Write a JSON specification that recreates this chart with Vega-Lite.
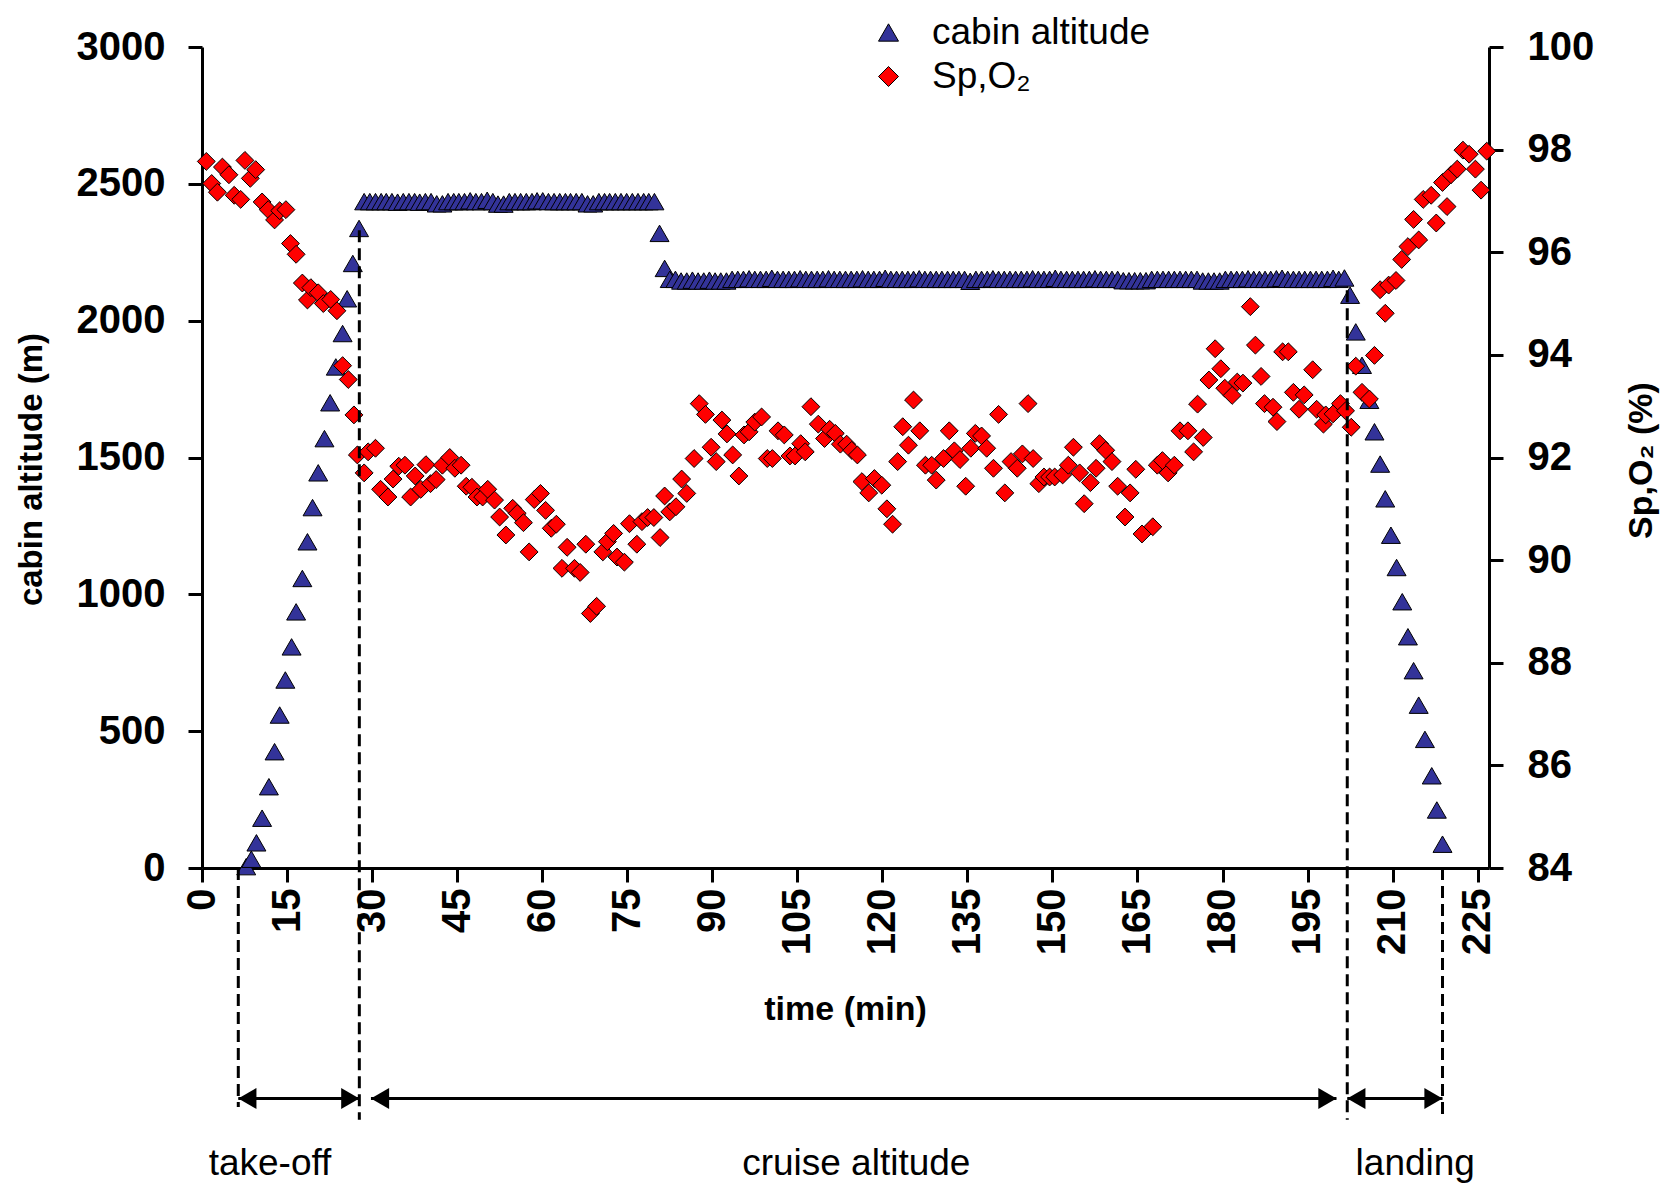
{
  "$schema": "https://vega.github.io/schema/vega-lite/v6.json",
  "width": 1287,
  "height": 821,
  "autosize": {"type": "none"},
  "padding": {"left": 202, "top": 47, "right": 176, "bottom": 324},
  "background": "white",
  "config": {
    "view": {"stroke": null},
    "font": "Liberation Sans",
    "axis": {
      "grid": false,
      "domainColor": "black",
      "domainWidth": 3,
      "tickColor": "black",
      "tickWidth": 3,
      "tickSize": 14,
      "labelFont": "Liberation Sans",
      "labelFontSize": 40,
      "labelFontWeight": "bold",
      "labelColor": "black",
      "titleFont": "Liberation Sans",
      "titleFontWeight": "bold",
      "titleColor": "black",
      "labelFlush": false,
      "labelOverlap": false
    }
  },
  "datasets": {
    "alt": [
      {"t": 7.8, "alt": 5}, {"t": 8.7, "alt": 32}, {"t": 9.6, "alt": 92}, {"t": 10.6, "alt": 182},
      {"t": 11.8, "alt": 297}, {"t": 12.8, "alt": 425}, {"t": 13.7, "alt": 559}, {"t": 14.7, "alt": 687},
      {"t": 15.8, "alt": 808}, {"t": 16.6, "alt": 936}, {"t": 17.7, "alt": 1058}, {"t": 18.6, "alt": 1192},
      {"t": 19.5, "alt": 1317}, {"t": 20.5, "alt": 1444}, {"t": 21.6, "alt": 1569}, {"t": 22.6, "alt": 1700},
      {"t": 23.6, "alt": 1831}, {"t": 24.8, "alt": 1953}, {"t": 25.6, "alt": 2080}, {"t": 26.6, "alt": 2209},
      {"t": 27.7, "alt": 2337},
      {"t": 28.6, "alt": 2435}, {"t": 29.6, "alt": 2435}, {"t": 30.6, "alt": 2435}, {"t": 31.6, "alt": 2435},
      {"t": 32.5, "alt": 2435}, {"t": 33.5, "alt": 2435}, {"t": 34.5, "alt": 2433}, {"t": 35.5, "alt": 2435},
      {"t": 36.5, "alt": 2435}, {"t": 37.5, "alt": 2435}, {"t": 38.4, "alt": 2433}, {"t": 39.4, "alt": 2435},
      {"t": 40.4, "alt": 2435}, {"t": 41.4, "alt": 2427}, {"t": 42.4, "alt": 2427}, {"t": 43.4, "alt": 2435},
      {"t": 44.4, "alt": 2435}, {"t": 45.3, "alt": 2435}, {"t": 46.3, "alt": 2435}, {"t": 47.3, "alt": 2438},
      {"t": 48.3, "alt": 2435}, {"t": 49.3, "alt": 2435}, {"t": 50.3, "alt": 2440}, {"t": 51.3, "alt": 2435},
      {"t": 52.2, "alt": 2426}, {"t": 53.2, "alt": 2426}, {"t": 54.2, "alt": 2435}, {"t": 55.2, "alt": 2435},
      {"t": 56.2, "alt": 2435}, {"t": 57.2, "alt": 2435}, {"t": 58.2, "alt": 2435}, {"t": 59.1, "alt": 2438},
      {"t": 60.1, "alt": 2438}, {"t": 61.1, "alt": 2435}, {"t": 62.1, "alt": 2435}, {"t": 63.1, "alt": 2435},
      {"t": 64.1, "alt": 2435}, {"t": 65.0, "alt": 2435}, {"t": 66.0, "alt": 2435}, {"t": 67.0, "alt": 2435},
      {"t": 68.0, "alt": 2427}, {"t": 69.0, "alt": 2427}, {"t": 70.0, "alt": 2435}, {"t": 71.0, "alt": 2435},
      {"t": 71.9, "alt": 2435}, {"t": 72.9, "alt": 2435}, {"t": 73.9, "alt": 2435}, {"t": 74.9, "alt": 2435},
      {"t": 75.9, "alt": 2435}, {"t": 76.9, "alt": 2435}, {"t": 77.9, "alt": 2435}, {"t": 78.8, "alt": 2435},
      {"t": 79.8, "alt": 2435},
      {"t": 80.7, "alt": 2319}, {"t": 81.6, "alt": 2191},
      {"t": 82.5, "alt": 2151}, {"t": 83.5, "alt": 2151}, {"t": 84.5, "alt": 2145}, {"t": 85.5, "alt": 2145},
      {"t": 86.5, "alt": 2148}, {"t": 87.5, "alt": 2145}, {"t": 88.5, "alt": 2145}, {"t": 89.5, "alt": 2148},
      {"t": 90.5, "alt": 2145}, {"t": 91.5, "alt": 2145}, {"t": 92.5, "alt": 2145}, {"t": 93.5, "alt": 2151},
      {"t": 94.5, "alt": 2151}, {"t": 95.5, "alt": 2151}, {"t": 96.5, "alt": 2153}, {"t": 97.5, "alt": 2151},
      {"t": 98.5, "alt": 2151}, {"t": 99.5, "alt": 2151}, {"t": 100.5, "alt": 2155}, {"t": 101.5, "alt": 2151},
      {"t": 102.5, "alt": 2151}, {"t": 103.5, "alt": 2151}, {"t": 104.5, "alt": 2151}, {"t": 105.5, "alt": 2153},
      {"t": 106.5, "alt": 2151}, {"t": 107.5, "alt": 2151}, {"t": 108.5, "alt": 2151}, {"t": 109.5, "alt": 2151},
      {"t": 110.5, "alt": 2153}, {"t": 111.5, "alt": 2151}, {"t": 112.5, "alt": 2151}, {"t": 113.5, "alt": 2151},
      {"t": 114.5, "alt": 2151}, {"t": 115.5, "alt": 2151}, {"t": 116.5, "alt": 2153}, {"t": 117.5, "alt": 2151},
      {"t": 118.5, "alt": 2151}, {"t": 119.5, "alt": 2151}, {"t": 120.5, "alt": 2155}, {"t": 121.5, "alt": 2151},
      {"t": 122.5, "alt": 2151}, {"t": 123.5, "alt": 2151}, {"t": 124.5, "alt": 2151}, {"t": 125.5, "alt": 2151},
      {"t": 126.5, "alt": 2153}, {"t": 127.5, "alt": 2151}, {"t": 128.5, "alt": 2151}, {"t": 129.5, "alt": 2151},
      {"t": 130.5, "alt": 2151}, {"t": 131.5, "alt": 2151}, {"t": 132.5, "alt": 2151}, {"t": 133.5, "alt": 2151},
      {"t": 134.5, "alt": 2151}, {"t": 135.5, "alt": 2144}, {"t": 136.5, "alt": 2151}, {"t": 137.5, "alt": 2151},
      {"t": 138.5, "alt": 2151}, {"t": 139.5, "alt": 2153}, {"t": 140.5, "alt": 2151}, {"t": 141.5, "alt": 2151},
      {"t": 142.5, "alt": 2151}, {"t": 143.5, "alt": 2151}, {"t": 144.5, "alt": 2151}, {"t": 145.5, "alt": 2151},
      {"t": 146.5, "alt": 2153}, {"t": 147.5, "alt": 2151}, {"t": 148.5, "alt": 2151}, {"t": 149.5, "alt": 2151},
      {"t": 150.5, "alt": 2155}, {"t": 151.5, "alt": 2151}, {"t": 152.5, "alt": 2151}, {"t": 153.5, "alt": 2151},
      {"t": 154.5, "alt": 2151}, {"t": 155.5, "alt": 2151}, {"t": 156.5, "alt": 2151}, {"t": 157.5, "alt": 2153},
      {"t": 158.5, "alt": 2151}, {"t": 159.5, "alt": 2151}, {"t": 160.5, "alt": 2151}, {"t": 161.5, "alt": 2151},
      {"t": 162.5, "alt": 2146}, {"t": 163.5, "alt": 2146}, {"t": 164.5, "alt": 2146}, {"t": 165.5, "alt": 2146},
      {"t": 166.5, "alt": 2146}, {"t": 167.5, "alt": 2151}, {"t": 168.5, "alt": 2151}, {"t": 169.5, "alt": 2151},
      {"t": 170.5, "alt": 2151}, {"t": 171.5, "alt": 2151}, {"t": 172.5, "alt": 2151}, {"t": 173.5, "alt": 2151},
      {"t": 174.5, "alt": 2151}, {"t": 175.5, "alt": 2151}, {"t": 176.5, "alt": 2145}, {"t": 177.5, "alt": 2145},
      {"t": 178.5, "alt": 2145}, {"t": 179.5, "alt": 2145}, {"t": 180.5, "alt": 2151}, {"t": 181.5, "alt": 2151},
      {"t": 182.5, "alt": 2151}, {"t": 183.5, "alt": 2151}, {"t": 184.5, "alt": 2153}, {"t": 185.5, "alt": 2151},
      {"t": 186.5, "alt": 2151}, {"t": 187.5, "alt": 2151}, {"t": 188.5, "alt": 2151}, {"t": 189.5, "alt": 2153},
      {"t": 190.5, "alt": 2155}, {"t": 191.5, "alt": 2151}, {"t": 192.5, "alt": 2151}, {"t": 193.5, "alt": 2151},
      {"t": 194.5, "alt": 2151}, {"t": 195.5, "alt": 2151}, {"t": 196.5, "alt": 2151}, {"t": 197.5, "alt": 2151},
      {"t": 198.5, "alt": 2151}, {"t": 199.5, "alt": 2155}, {"t": 200.5, "alt": 2151}, {"t": 201.5, "alt": 2156},
      {"t": 202.5, "alt": 2093}, {"t": 203.5, "alt": 1959}, {"t": 204.6, "alt": 1837}, {"t": 205.9, "alt": 1709},
      {"t": 206.8, "alt": 1594}, {"t": 207.8, "alt": 1476}, {"t": 208.7, "alt": 1349}, {"t": 209.7, "alt": 1216},
      {"t": 210.7, "alt": 1098}, {"t": 211.7, "alt": 973}, {"t": 212.7, "alt": 845}, {"t": 213.7, "alt": 721},
      {"t": 214.6, "alt": 595}, {"t": 215.7, "alt": 470}, {"t": 216.9, "alt": 337}, {"t": 217.8, "alt": 212},
      {"t": 218.8, "alt": 87}
    ],
    "spo2": [
      {"t": 0.76, "s": 97.77}, {"t": 1.71, "s": 97.34}, {"t": 2.72, "s": 97.17}, {"t": 3.6, "s": 97.66},
      {"t": 4.75, "s": 97.51}, {"t": 5.68, "s": 97.11}, {"t": 6.83, "s": 97.03}, {"t": 7.57, "s": 97.79},
      {"t": 8.52, "s": 97.44}, {"t": 9.47, "s": 97.61}, {"t": 10.6, "s": 96.98}, {"t": 11.68, "s": 96.83},
      {"t": 12.8, "s": 96.63}, {"t": 13.7, "s": 96.81}, {"t": 14.8, "s": 96.83}, {"t": 15.6, "s": 96.17},
      {"t": 16.6, "s": 95.96}, {"t": 17.7, "s": 95.4}, {"t": 18.6, "s": 95.07}, {"t": 19.2, "s": 95.31},
      {"t": 20.5, "s": 95.21}, {"t": 21.4, "s": 95.0}, {"t": 22.7, "s": 95.08}, {"t": 23.8, "s": 94.86},
      {"t": 24.8, "s": 93.79}, {"t": 25.8, "s": 93.52}, {"t": 26.8, "s": 92.83}, {"t": 27.4, "s": 92.05},
      {"t": 28.6, "s": 91.7}, {"t": 29.3, "s": 92.11}, {"t": 30.6, "s": 92.18}, {"t": 31.5, "s": 91.38},
      {"t": 32.8, "s": 91.23}, {"t": 33.7, "s": 91.58}, {"t": 34.7, "s": 91.83}, {"t": 35.8, "s": 91.85},
      {"t": 36.8, "s": 91.23}, {"t": 37.6, "s": 91.64}, {"t": 38.6, "s": 91.38}, {"t": 39.5, "s": 91.86},
      {"t": 40.3, "s": 91.49}, {"t": 41.3, "s": 91.57}, {"t": 42.4, "s": 91.85}, {"t": 43.7, "s": 92.0},
      {"t": 44.6, "s": 91.79}, {"t": 45.7, "s": 91.85}, {"t": 46.6, "s": 91.44}, {"t": 47.6, "s": 91.42},
      {"t": 48.5, "s": 91.23}, {"t": 49.5, "s": 91.23}, {"t": 50.4, "s": 91.38}, {"t": 51.6, "s": 91.17},
      {"t": 52.5, "s": 90.84}, {"t": 53.6, "s": 90.49}, {"t": 54.8, "s": 91.01}, {"t": 55.6, "s": 90.91},
      {"t": 56.7, "s": 90.73}, {"t": 57.7, "s": 90.16}, {"t": 58.6, "s": 91.18}, {"t": 59.7, "s": 91.3},
      {"t": 60.6, "s": 90.97}, {"t": 61.6, "s": 90.62}, {"t": 62.5, "s": 90.7}, {"t": 63.5, "s": 89.84},
      {"t": 64.4, "s": 90.25}, {"t": 65.7, "s": 89.84}, {"t": 66.7, "s": 89.76}, {"t": 67.7, "s": 90.31},
      {"t": 68.5, "s": 88.96}, {"t": 69.6, "s": 89.1}, {"t": 70.7, "s": 90.16}, {"t": 71.5, "s": 90.36},
      {"t": 72.6, "s": 90.52}, {"t": 73.2, "s": 90.06}, {"t": 74.5, "s": 89.96}, {"t": 75.4, "s": 90.71},
      {"t": 76.7, "s": 90.31}, {"t": 77.6, "s": 90.75}, {"t": 78.6, "s": 90.83}, {"t": 79.7, "s": 90.83},
      {"t": 80.8, "s": 90.44}, {"t": 81.6, "s": 91.25}, {"t": 82.5, "s": 90.94}, {"t": 83.6, "s": 91.04},
      {"t": 84.6, "s": 91.58}, {"t": 85.5, "s": 91.3}, {"t": 86.8, "s": 91.98}, {"t": 87.7, "s": 93.05},
      {"t": 88.8, "s": 92.84}, {"t": 89.8, "s": 92.2}, {"t": 90.7, "s": 91.92}, {"t": 91.7, "s": 92.73},
      {"t": 92.6, "s": 92.46}, {"t": 93.6, "s": 92.05}, {"t": 94.7, "s": 91.64}, {"t": 95.6, "s": 92.44},
      {"t": 96.5, "s": 92.5}, {"t": 97.5, "s": 92.69}, {"t": 98.7, "s": 92.79}, {"t": 99.7, "s": 91.98},
      {"t": 100.6, "s": 91.98}, {"t": 101.6, "s": 92.52}, {"t": 102.7, "s": 92.44}, {"t": 103.7, "s": 92.03},
      {"t": 104.6, "s": 92.03}, {"t": 105.6, "s": 92.27}, {"t": 106.4, "s": 92.11}, {"t": 107.4, "s": 92.99},
      {"t": 108.7, "s": 92.65}, {"t": 109.8, "s": 92.37}, {"t": 110.7, "s": 92.55}, {"t": 111.7, "s": 92.47},
      {"t": 112.6, "s": 92.26}, {"t": 113.7, "s": 92.26}, {"t": 114.6, "s": 92.14}, {"t": 115.6, "s": 92.05},
      {"t": 116.4, "s": 91.53}, {"t": 117.6, "s": 91.31}, {"t": 118.6, "s": 91.59}, {"t": 119.9, "s": 91.46},
      {"t": 120.8, "s": 91.0}, {"t": 121.8, "s": 90.7}, {"t": 122.7, "s": 91.92}, {"t": 123.6, "s": 92.6},
      {"t": 124.6, "s": 92.24}, {"t": 125.5, "s": 93.12}, {"t": 126.6, "s": 92.52}, {"t": 127.6, "s": 91.85},
      {"t": 128.7, "s": 91.85}, {"t": 129.5, "s": 91.56}, {"t": 130.8, "s": 91.98}, {"t": 131.8, "s": 92.52},
      {"t": 132.7, "s": 92.13}, {"t": 133.7, "s": 91.96}, {"t": 134.7, "s": 91.44}, {"t": 135.6, "s": 92.18},
      {"t": 136.4, "s": 92.47}, {"t": 137.5, "s": 92.42}, {"t": 138.4, "s": 92.18}, {"t": 139.6, "s": 91.79},
      {"t": 140.5, "s": 92.84}, {"t": 141.6, "s": 91.31}, {"t": 142.7, "s": 91.92}, {"t": 143.8, "s": 91.79},
      {"t": 144.7, "s": 92.07}, {"t": 145.7, "s": 93.05}, {"t": 146.6, "s": 91.98}, {"t": 147.6, "s": 91.49},
      {"t": 148.5, "s": 91.62}, {"t": 149.5, "s": 91.62}, {"t": 150.4, "s": 91.62}, {"t": 151.8, "s": 91.66},
      {"t": 152.8, "s": 91.85}, {"t": 153.7, "s": 92.2}, {"t": 154.8, "s": 91.7}, {"t": 155.6, "s": 91.1},
      {"t": 156.7, "s": 91.51}, {"t": 157.7, "s": 91.79}, {"t": 158.3, "s": 92.27}, {"t": 159.4, "s": 92.14},
      {"t": 160.5, "s": 91.92}, {"t": 161.5, "s": 91.44}, {"t": 162.8, "s": 90.84}, {"t": 163.7, "s": 91.31},
      {"t": 164.7, "s": 91.77}, {"t": 165.8, "s": 90.51}, {"t": 167.7, "s": 90.65}, {"t": 168.5, "s": 91.85},
      {"t": 169.4, "s": 91.94}, {"t": 170.4, "s": 91.7}, {"t": 171.5, "s": 91.85}, {"t": 172.5, "s": 92.52},
      {"t": 173.9, "s": 92.52}, {"t": 174.9, "s": 92.11}, {"t": 175.6, "s": 93.04}, {"t": 176.6, "s": 92.39},
      {"t": 177.6, "s": 93.51}, {"t": 178.7, "s": 94.12}, {"t": 179.7, "s": 93.73}, {"t": 180.4, "s": 93.35},
      {"t": 181.7, "s": 93.21}, {"t": 182.6, "s": 93.47}, {"t": 183.6, "s": 93.45}, {"t": 184.9, "s": 94.94},
      {"t": 185.8, "s": 94.19}, {"t": 186.8, "s": 93.58}, {"t": 187.4, "s": 93.05}, {"t": 188.9, "s": 92.98},
      {"t": 189.6, "s": 92.7}, {"t": 190.6, "s": 94.06}, {"t": 191.6, "s": 94.06}, {"t": 192.5, "s": 93.27},
      {"t": 193.5, "s": 92.94}, {"t": 194.4, "s": 93.22}, {"t": 195.9, "s": 93.71}, {"t": 196.6, "s": 92.94},
      {"t": 197.8, "s": 92.65}, {"t": 198.2, "s": 92.83}, {"t": 199.5, "s": 92.85}, {"t": 200.8, "s": 93.05},
      {"t": 201.7, "s": 92.91}, {"t": 202.7, "s": 92.59}, {"t": 203.5, "s": 93.78}, {"t": 204.6, "s": 93.27},
      {"t": 205.9, "s": 93.14}, {"t": 206.8, "s": 93.99}, {"t": 207.8, "s": 95.27}, {"t": 208.7, "s": 94.81},
      {"t": 209.3, "s": 95.36}, {"t": 210.6, "s": 95.45}, {"t": 211.6, "s": 95.86}, {"t": 212.7, "s": 96.11},
      {"t": 213.7, "s": 96.64}, {"t": 214.6, "s": 96.24}, {"t": 215.4, "s": 97.03}, {"t": 216.8, "s": 97.11},
      {"t": 217.7, "s": 96.57}, {"t": 218.8, "s": 97.36}, {"t": 219.6, "s": 96.89}, {"t": 220.3, "s": 97.51},
      {"t": 221.4, "s": 97.62}, {"t": 222.4, "s": 97.99}, {"t": 223.5, "s": 97.91}, {"t": 224.6, "s": 97.62},
      {"t": 225.6, "s": 97.21}, {"t": 226.6, "s": 97.97}
    ],
    "guides": [
      {"t": 6.4, "alt": 0, "alt2": -873},
      {"t": 27.75, "alt": 2330, "alt2": -920},
      {"t": 202.0, "alt": 2111, "alt2": -920},
      {"t": 218.8, "alt": 0, "alt2": -920}
    ],
    "arrows": [
      {"t": 6.4, "t2": 27.75, "alt": -842},
      {"t": 29.8, "t2": 200.1, "alt": -842},
      {"t": 202.0, "t2": 218.8, "alt": -842}
    ],
    "heads": [
      {"t": 8.0, "alt": -842, "dir": "left"},
      {"t": 26.15, "alt": -842, "dir": "right"},
      {"t": 31.4, "alt": -842, "dir": "left"},
      {"t": 198.5, "alt": -842, "dir": "right"},
      {"t": 203.6, "alt": -842, "dir": "left"},
      {"t": 217.2, "alt": -842, "dir": "right"}
    ],
    "labels": [
      {"t": 12.0, "alt": -1123, "label": "take-off"},
      {"t": 115.4, "alt": -1123, "label": "cruise altitude"},
      {"t": 214.0, "alt": -1123, "label": "landing"}
    ]
  },
  "encoding": {
    "x": {
      "field": "t",
      "type": "quantitative",
      "scale": {"domain": [0, 227], "nice": false, "zero": false},
      "axis": {
        "title": "time (min)",
        "values": [0, 15, 30, 45, 60, 75, 90, 105, 120, 135, 150, 165, 180, 195, 210, 225],
        "format": "d",
        "labelAngle": -90,
        "labelPadding": 6,
        "titleFontSize": 34,
        "titleX": 643,
        "titleY": 151,
        "titleAlign": "center",
        "titleBaseline": "alphabetic"
      }
    }
  },
  "layer": [
    {
      "data": {"name": "alt"},
      "mark": {"type": "point", "filled": true, "opacity": 1, "stroke": "black", "strokeWidth": 1, "size": 360},
      "encoding": {
        "y": {
          "field": "alt",
          "type": "quantitative",
          "scale": {"domain": [0, 3000], "nice": false, "zero": false},
          "axis": {
            "title": "cabin altitude (m)",
            "values": [0, 500, 1000, 1500, 2000, 2500, 3000],
            "format": "d",
            "labelPadding": 23,
            "titleFontSize": 33,
            "titleAngle": -90,
            "titleX": -171,
            "titleY": 422,
            "titleAlign": "center",
            "titleBaseline": "middle"
          }
        },
        "color": {
          "datum": "cabin altitude",
          "type": "nominal",
          "scale": {"domain": ["cabin altitude", "Sp,O₂"], "range": ["#333399", "#FF0000"]},
          "legend": {
            "title": null,
            "orient": "none",
            "legendX": 668,
            "legendY": -33,
            "padding": 0,
            "labelFont": "Liberation Sans",
            "labelFontSize": 37,
            "labelColor": "black",
            "labelLimit": 0,
            "labelOffset": 25,
            "rowPadding": 6,
            "symbolSize": 400,
            "symbolStrokeColor": "black",
            "symbolStrokeWidth": 1,
            "symbolOpacity": 1,
            "encode": {"symbols": {"update": {"stroke": {"value": "black"}, "strokeWidth": {"value": 1}}}}
          }
        },
        "shape": {
          "datum": "cabin altitude",
          "type": "nominal",
          "scale": {"domain": ["cabin altitude", "Sp,O₂"], "range": ["triangle-up", "diamond"]},
          "legend": {
            "title": null,
            "orient": "none",
            "legendX": 668,
            "legendY": -33,
            "padding": 0,
            "labelFont": "Liberation Sans",
            "labelFontSize": 37,
            "labelColor": "black",
            "labelLimit": 0,
            "labelOffset": 25,
            "rowPadding": 6,
            "symbolSize": 400,
            "symbolStrokeColor": "black",
            "symbolStrokeWidth": 1,
            "symbolOpacity": 1,
            "encode": {"symbols": {"update": {"stroke": {"value": "black"}, "strokeWidth": {"value": 1}}}}
          }
        }
      }
    },
    {
      "data": {"name": "spo2"},
      "mark": {"type": "point", "filled": true, "opacity": 1, "stroke": "black", "strokeWidth": 1, "size": 320},
      "encoding": {
        "y": {
          "field": "s",
          "type": "quantitative",
          "scale": {"domain": [84, 100], "nice": false, "zero": false},
          "axis": {
            "orient": "right",
            "title": "Sp,O₂ (%)",
            "values": [84, 86, 88, 90, 92, 94, 96, 98, 100],
            "format": "d",
            "labelPadding": 24,
            "titleFontSize": 34,
            "titleAngle": -90,
            "titleX": 152,
            "titleY": 413,
            "titleAlign": "center",
            "titleBaseline": "middle"
          }
        },
        "color": {"datum": "Sp,O₂", "type": "nominal"},
        "shape": {"datum": "Sp,O₂", "type": "nominal"}
      }
    },
    {
      "encoding": {
        "y": {
          "field": "alt",
          "type": "quantitative",
          "scale": {"domain": [0, 3000], "nice": false, "zero": false},
          "axis": null
        }
      },
      "layer": [
        {
          "data": {"name": "guides"},
          "mark": {"type": "rule", "strokeDash": [12, 6], "strokeWidth": 3, "color": "black"},
          "encoding": {"y2": {"field": "alt2"}}
        },
        {
          "data": {"name": "arrows"},
          "mark": {"type": "rule", "strokeWidth": 3, "color": "black"},
          "encoding": {"x2": {"field": "t2"}}
        },
        {
          "data": {"name": "heads"},
          "transform": [{"filter": "datum.dir == 'left'"}],
          "mark": {"type": "point", "shape": "triangle-left", "filled": true, "color": "black", "opacity": 1, "size": 440},
          "encoding": {}
        },
        {
          "data": {"name": "heads"},
          "transform": [{"filter": "datum.dir == 'right'"}],
          "mark": {"type": "point", "shape": "triangle-right", "filled": true, "color": "black", "opacity": 1, "size": 440},
          "encoding": {}
        },
        {
          "data": {"name": "labels"},
          "mark": {"type": "text", "font": "Liberation Sans", "fontSize": 37, "color": "black", "align": "center", "baseline": "alphabetic"},
          "encoding": {"text": {"field": "label"}}
        }
      ]
    }
  ],
  "resolve": {"scale": {"y": "independent"}}
}
